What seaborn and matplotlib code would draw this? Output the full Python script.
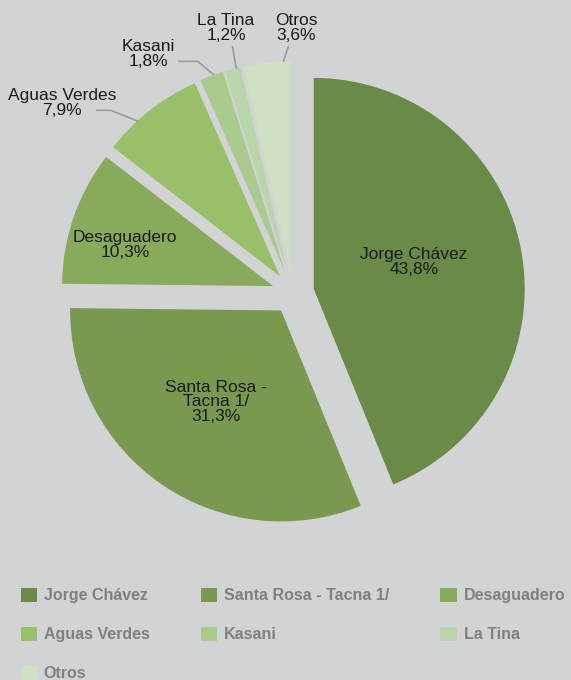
import matplotlib
matplotlib.use("Agg")
import matplotlib.pyplot as plt
import numpy as np
import seaborn as sns

# Data
PUESTOS = ["Jorge Chávez", "Santa Rosa - Tacna 1/", "Desaguadero", "Aguas Verdes",
           "Kasani", "La Tina", "Otros"]
PARTICIPACION = [43.8, 31.3, 10.3, 7.9, 1.8, 1.2, 3.6]
COLORES = ["#6a8a47", "#78994f", "#87aa5b", "#97c068", "#a9cb8d", "#bbd5aa", "#cfe0c3"]

BG = "#d2d3d5"
TEXT = "#1a1a1a"
LINE = "#9a9a9a"


def pct(v):
    return f"{v:.1f}%".replace(".", ",")


sns.set_theme(style="white")
plt.rcParams["font.family"] = ["Liberation Sans", "DejaVu Sans"]

fig = plt.figure(figsize=(5.71, 6.80), dpi=100, facecolor=BG)
ax = fig.add_axes([0, 0, 1, 1])
ax.set_facecolor(BG)

wedges, _ = ax.pie(
    PARTICIPACION,
    colors=COLORES,
    startangle=90,
    counterclock=False,
    explode=[0.1] * len(PARTICIPACION),
    radius=1.0,
    wedgeprops={"linewidth": 0},
)

# pixel layout: pie centre at (293, 293) from top-left, radius 211 px
ax.set_xlim(-293 / 211, (571 - 293) / 211)
ax.set_ylim(-(680 - 293) / 211, 293 / 211)
ax.axis("off")


def px(x, y):
    return (x - 293) / 211, (293 - y) / 211


# labels inside the large slices
inside = {0: (414, 262), 1: (216, 402), 2: (125, 245)}
names_inside = {0: "Jorge Chávez", 1: "Santa Rosa -\nTacna 1/", 2: "Desaguadero"}
for i, pos in inside.items():
    ax.text(*px(*pos), f"{names_inside[i]}\n{pct(PARTICIPACION[i])}",
            ha="center", va="center", fontsize=12.5, color=TEXT, linespacing=0.95)

# labels outside with leader lines: text position, connector, start point, where on the arc
outside = {
    3: ((62, 103), "angle,angleA=0,angleB=-22,rad=0", (0.78, 0.25), 0.66),
    4: ((148, 54), "angle,angleA=0,angleB=-40,rad=0", (1, 0.25), 0.4),
    5: ((226, 28), "arc3", (0.6, 0), 0.25),
    6: ((296, 28), "arc3", (0.35, 0), 0.15),
}
for i, (pos, style, rel, frac) in outside.items():
    w = wedges[i]
    ang = np.deg2rad(w.theta1 + frac * (w.theta2 - w.theta1))
    cx, cy = w.center
    target = (cx + w.r * np.cos(ang), cy + w.r * np.sin(ang))
    ax.annotate(
        f"{PUESTOS[i]}\n{pct(PARTICIPACION[i])}",
        xy=target, xytext=px(*pos), ha="center", va="center",
        fontsize=12.5, color=TEXT, linespacing=0.95,
        arrowprops=dict(arrowstyle="-", color=LINE, lw=1.2,
                        connectionstyle=style, relpos=rel,
                        patchA=None, shrinkA=3, shrinkB=0),
    )

# legend filled row by row, as in the reference
order = [0, 3, 6, 1, 4, 2, 5]
leg = fig.legend(
    [wedges[i] for i in order], [PUESTOS[i] for i in order],
    ncol=3, loc="upper left", bbox_to_anchor=(0.036, 0.136),
    frameon=False, borderaxespad=0, borderpad=0,
    handlelength=1.05, handleheight=1.05, handletextpad=0.4,
    labelspacing=1.45, columnspacing=3.2,
    prop={"size": 11.5, "weight": "bold"},
)
for t in leg.get_texts():
    t.set_color("#808083")

fig.savefig("out.png", dpi=100, facecolor=BG)
